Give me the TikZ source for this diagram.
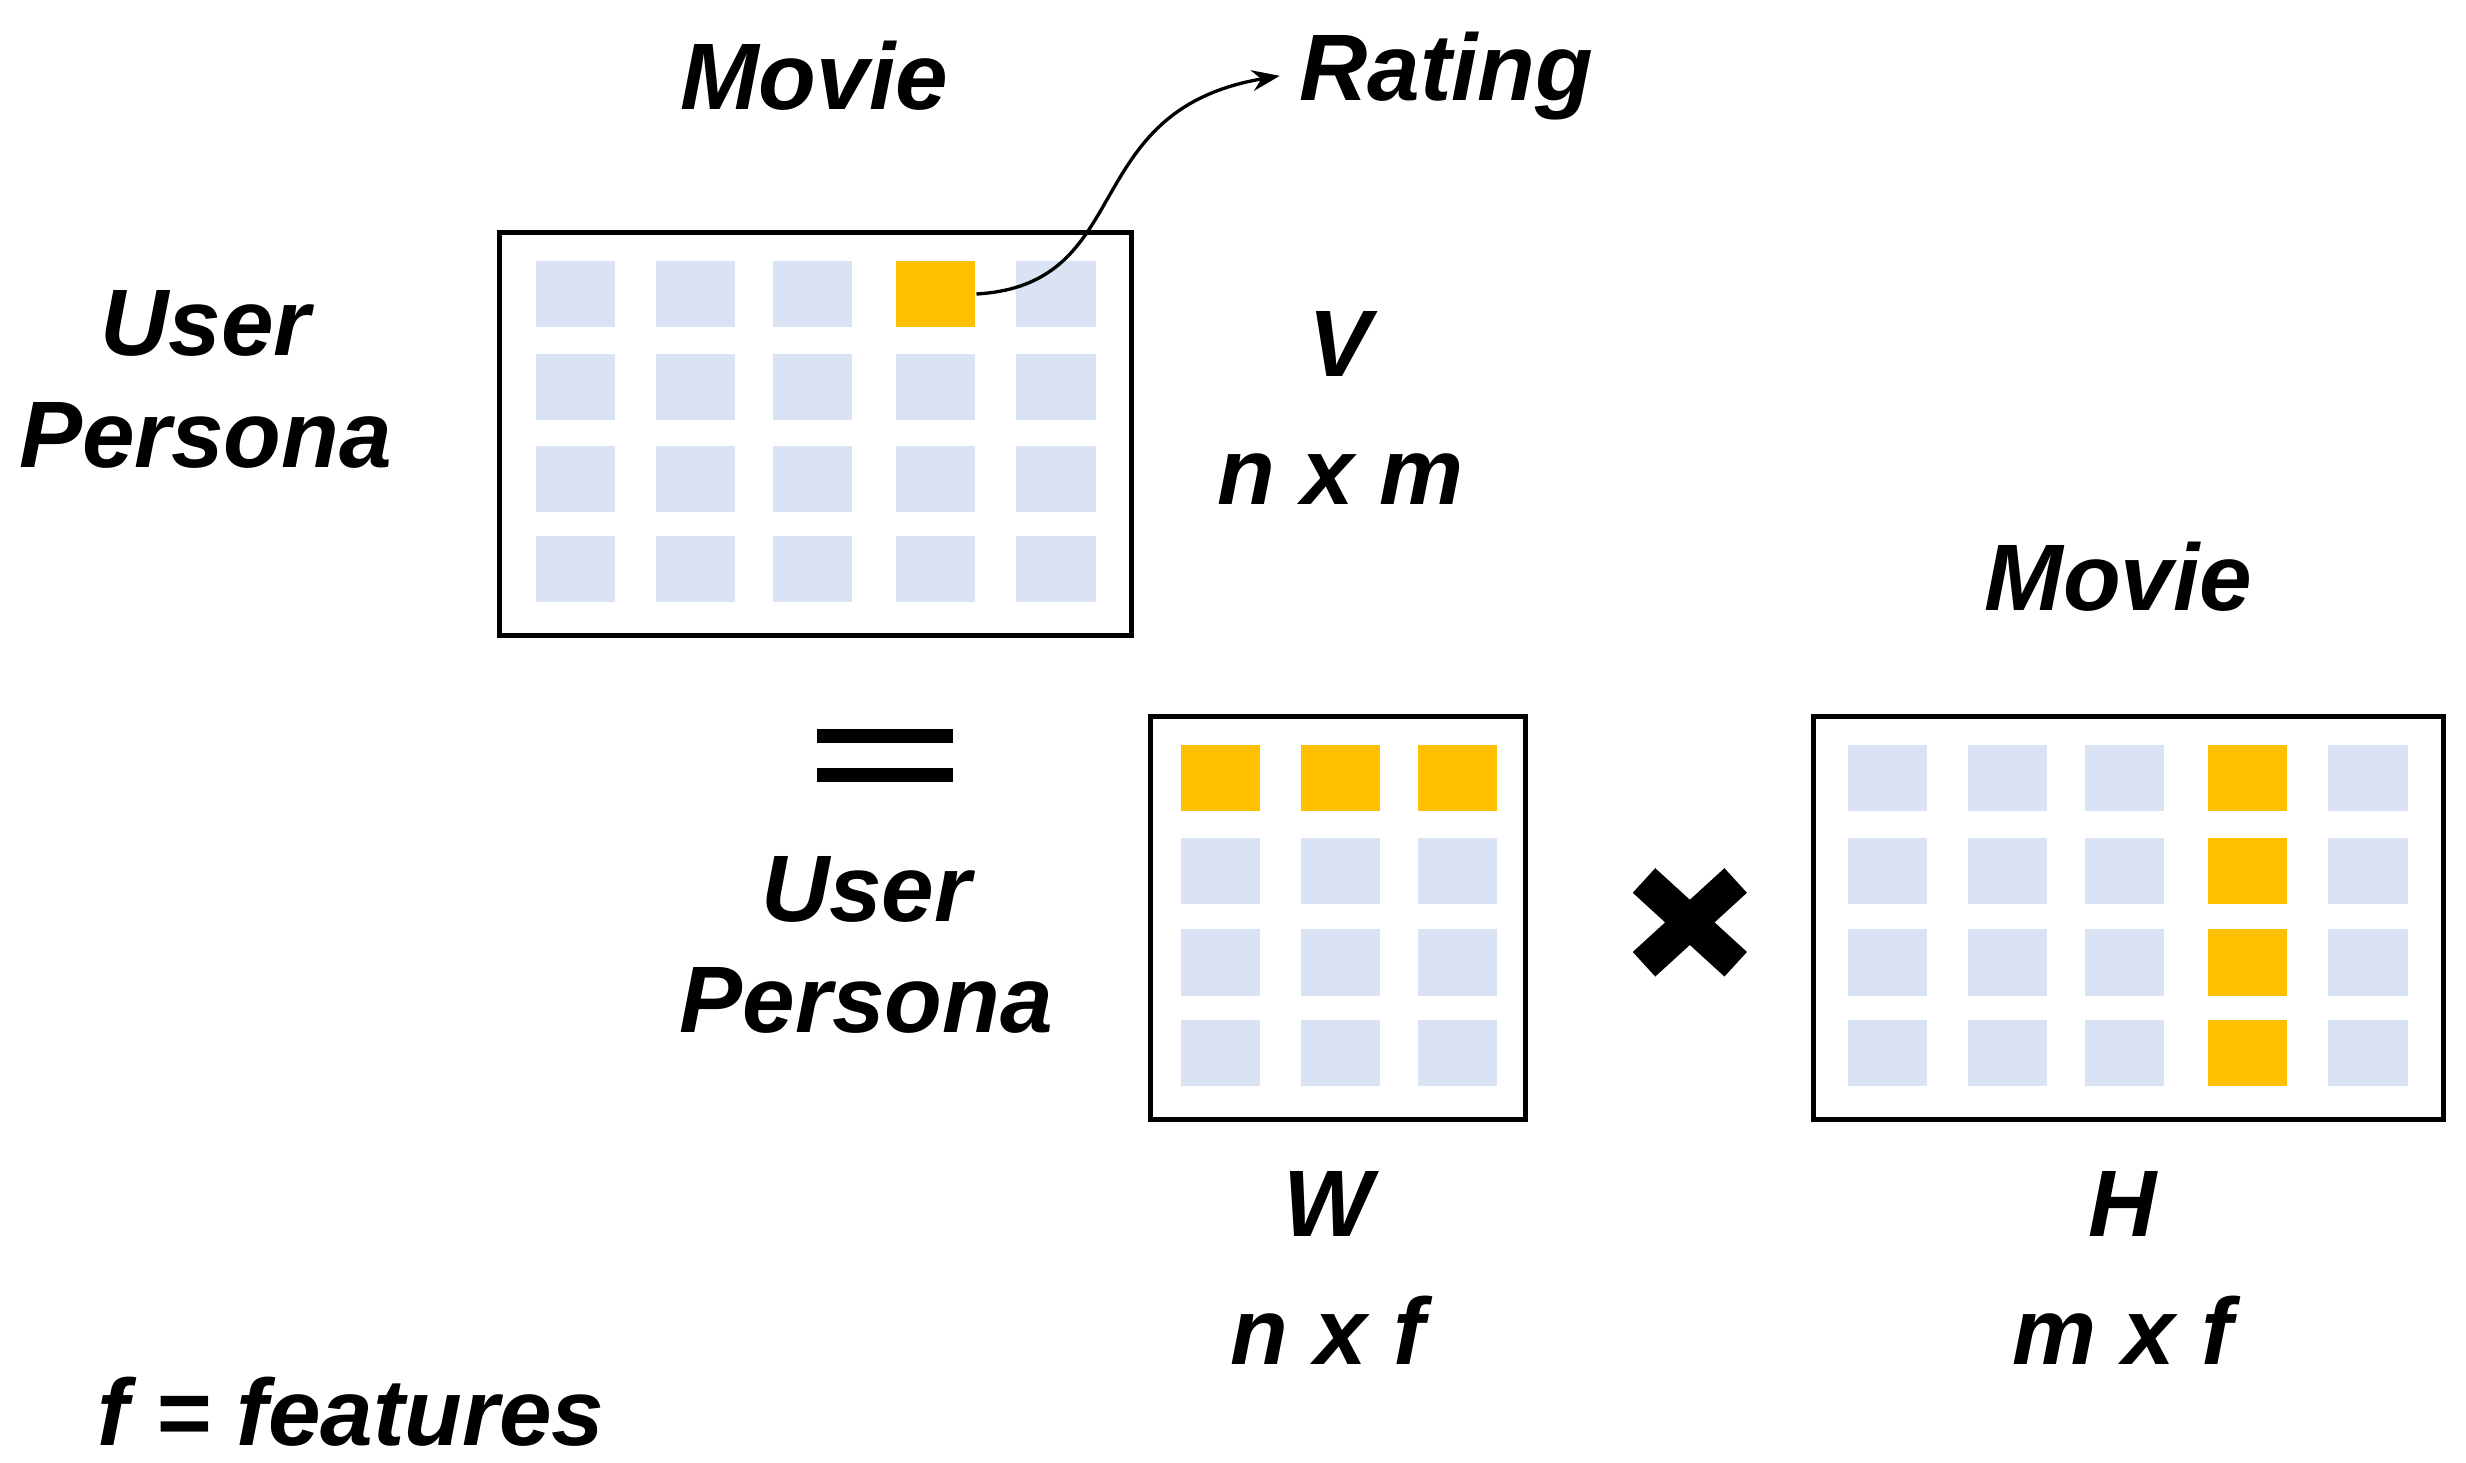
\documentclass[tikz,border=0pt]{standalone}
\usepackage{fontspec}
\setmainfont{Liberation Sans}
\usetikzlibrary{arrows.meta}
\definecolor{cellblue}{HTML}{DAE3F3}
\definecolor{cellgold}{HTML}{FFC000}
\tikzset{
  lbl/.style={font=\bfseries\itshape\fontsize{17}{20}\selectfont, align=center},
  cell/.style={fill=cellblue, minimum width=0.5cm, minimum height=0.42cm, inner sep=0pt},
  hot/.style={cell, fill=cellgold},
  frame/.style={draw=black, line width=0.9pt}
}
\begin{document}
\begin{tikzpicture}[x=0.01cm, y=-0.01cm]
    \useasboundingbox (0,0) rectangle (1560,925);

    % matrix V
    \draw [frame] (316,147) rectangle (716,402);
    \foreach \cx [count=\i] in {364,440,514,592,668} {
      \foreach \cy [count=\j] in {186,245,303,360} {
        \node [cell] (v-\i-\j) at (\cx,\cy) {};
      }
    }
    \node [hot] (vhot) at (592,186) {};

    % matrix W
    \draw [frame] (728,453) rectangle (965,708);
    \foreach \cx in {772,848,922} {
      \node [hot] at (\cx,492) {};
      \foreach \cy in {551,609,666} {
        \node [cell] at (\cx,\cy) {};
      }
    }

    % matrix H
    \draw [frame] (1147,453) rectangle (1546,708);
    \foreach \cx [count=\i] in {1194,1270,1344,1422,1498} {
      \foreach \cy in {492,551,609,666} {
        \ifnum\i=4
          \node [hot] at (\cx,\cy) {};
        \else
          \node [cell] at (\cx,\cy) {};
        \fi
      }
    }

    % equals and times signs
    \fill (517,461) rectangle (603,470);
    \fill (517,486) rectangle (603,495);
    \draw [line width=6pt] (1040,557) -- (1098,610);
    \draw [line width=6pt] (1040,610) -- (1098,557);

    \node [lbl] at (515,48) {Movie};
    \node [lbl] (rating) at (915,48) {Rating};
    \node [lbl] at (130,240) {User\\Persona};
    \node [lbl] at (848,258) {V\\[3pt]n x m};
    \node [lbl] at (1340,365) {Movie};
    \node [lbl] at (548,598) {User\\Persona};
    \node [lbl] at (840,802) {W\\[3pt]n x f};
    \node [lbl] at (1343,802) {H\\[3pt]m x f};
    \node [lbl] at (222,893) {f = features};

    \draw [-{Stealth[length=5pt]}, line width=0.6pt] (vhot.east)
      .. controls (720,180) and (680,70) .. (rating.west);

\end{tikzpicture}
\end{document}
